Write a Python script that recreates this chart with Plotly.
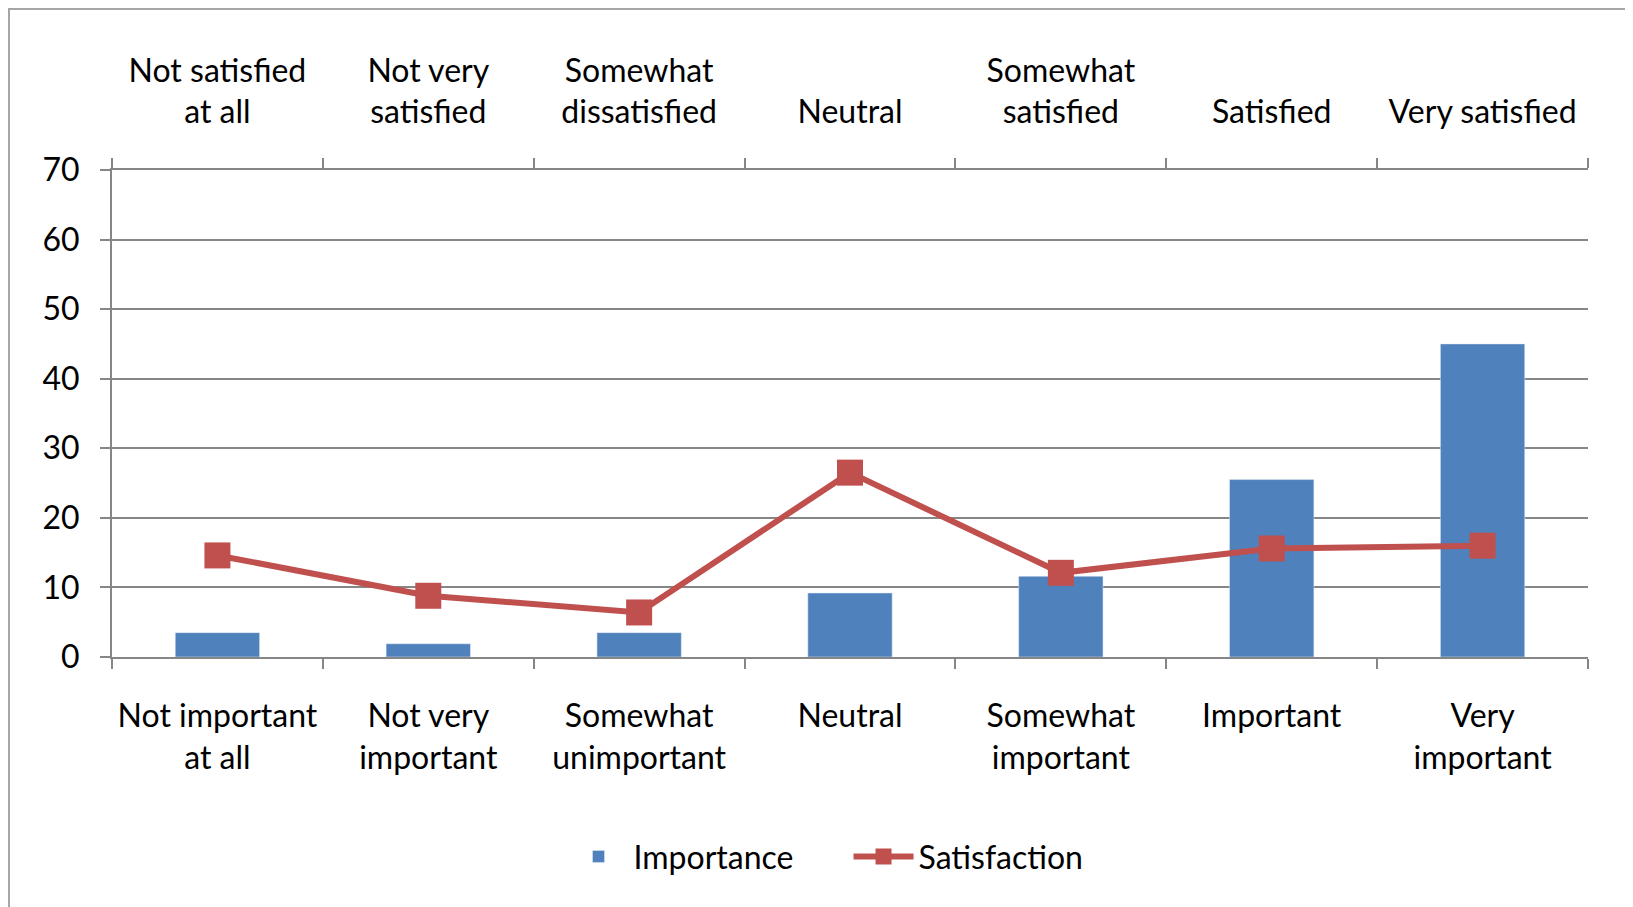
import plotly.graph_objects as go

importance_labels = ["Not important<br>at all", "Not very<br>important", "Somewhat<br>unimportant",
                     "Neutral", "Somewhat<br>important", "Important", "Very<br>important"]
satisfaction_labels = ["Not satisfied<br>at all", "Not very<br>satisfied", "Somewhat<br>dissatisfied",
                       "Neutral", "Somewhat<br>satisfied", "Satisfied", "Very satisfied"]
importance = [3.5, 1.9, 3.5, 9.2, 11.6, 25.5, 45.0]
satisfaction = [14.6, 8.8, 6.4, 26.5, 12.1, 15.6, 16.0]

# the page body has an 8px margin, so the figure is a bit smaller than the window
W, H = 1625, 899
L, R, T, B = 104, 45, 162, 250
pw, ph = W - L - R, H - T - B
FONT = "Lato"

fig = go.Figure()
fig.add_trace(go.Bar(
    x=importance_labels, y=importance, name="Importance",
    marker_color="#4F81BD", xaxis="x", yaxis="y"
))
fig.add_trace(go.Scatter(
    x=satisfaction_labels, y=satisfaction, name="Satisfaction",
    mode="lines+markers", xaxis="x2", yaxis="y",
    line=dict(color="#C0504D", width=6),
    marker=dict(symbol="square", size=26, color="#C0504D")
))

axis_common = dict(
    type="category", tickson="boundaries", ticks="outside", ticklen=10,
    tickcolor="#868686", tickwidth=2, showline=True, linecolor="#868686",
    linewidth=2, showgrid=False, range=[-0.5, 6.5],
    tickfont=dict(family=FONT, size=32, color="black"),
)
fig.update_layout(
    width=W, height=H,
    margin=dict(l=L, r=R, t=T, b=B),
    paper_bgcolor="white", plot_bgcolor="white",
    bargap=0.6,
    xaxis=dict(**axis_common, side="bottom", ticklabelstandoff=30),
    xaxis2=dict(**axis_common, side="top", overlaying="x", ticklabelstandoff=32),
    yaxis=dict(range=[0, 70], dtick=10, showgrid=True, gridcolor="#868686",
               gridwidth=2, showline=True, linecolor="#868686", linewidth=2,
               ticks="outside", ticklen=10, tickcolor="#868686", tickwidth=2,
               ticklabelstandoff=14, zeroline=False,
               tickfont=dict(family=FONT, size=32, color="black")),
    legend=dict(orientation="h", x=0.499, xanchor="center", y=-0.41, yanchor="middle",
                font=dict(family=FONT, size=32, color="black"), itemwidth=60,
                entrywidth=210),
    showlegend=True,
    shapes=[dict(type="rect", xref="paper", yref="paper",
                 x0=(1 - L) / pw, x1=(1619 - L) / pw,
                 y0=(H - 930 - B) / ph, y1=(H - 1 - B) / ph,
                 line=dict(color="#A6A6A6", width=2), layer="below")],
)

fig.write_html("out.html")
